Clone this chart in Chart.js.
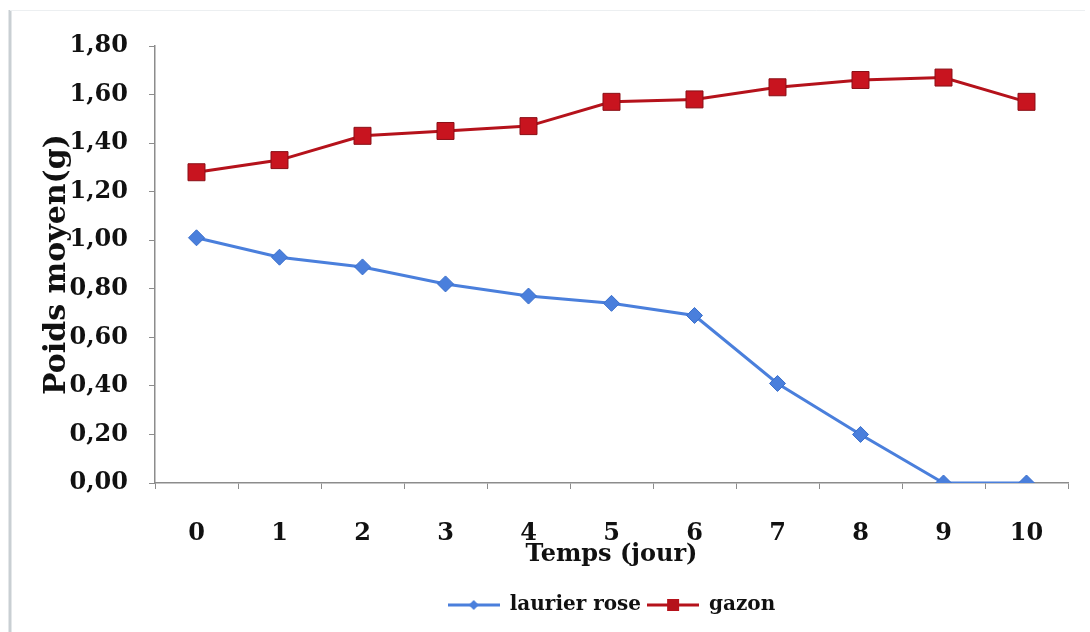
<!DOCTYPE html>
<html>
<head>
<meta charset="utf-8">
<script src="https://cdn.jsdelivr.net/npm/chart.js@4/dist/chart.umd.min.js"></script>
<style>
  html, body { margin: 0; padding: 0; background: #fff; }
  #wrap { width: 1090px; height: 632px; position: relative; }
</style>
</head>
<body>
<div id="wrap"><canvas id="myChart" width="1090" height="632"></canvas></div>
<script>
var jours = ["0", "1", "2", "3", "4", "5", "6", "7", "8", "9", "10"];
var laurierRose = [1.01, 0.93, 0.89, 0.82, 0.77, 0.74, 0.69, 0.41, 0.20, 0.00, 0.00];
var gazon = [1.28, 1.33, 1.43, 1.45, 1.47, 1.57, 1.58, 1.63, 1.66, 1.67, 1.57];
var yTicks = [0, 0.2, 0.4, 0.6, 0.8, 1.0, 1.2, 1.4, 1.6, 1.8];

var blue = "#4a7fdc";
var red = "#b5121b";
var serif = "'DejaVu Serif', 'Liberation Serif', serif";

// little line+marker pictures for the legend
function legendIcon(color, shape){
  var c = document.createElement("canvas");
  c.width = 52; c.height = 16;
  var g = c.getContext("2d");
  g.strokeStyle = color; g.lineWidth = 3;
  g.beginPath(); g.moveTo(0, 8); g.lineTo(52, 8); g.stroke();
  g.fillStyle = color;
  g.beginPath();
  if (shape === "diamond") {
    g.moveTo(26, 3); g.lineTo(31, 8); g.lineTo(26, 13); g.lineTo(21, 8);
  } else {
    g.rect(20, 2, 12, 12);
  }
  g.closePath(); g.fill();
  return c;
}
var icons = [legendIcon(blue, "diamond"), legendIcon(red, "square")];

var frame = {
  id: "frame",
  beforeDraw: function(chart){
    var c = chart.ctx;
    c.save();
    c.fillStyle = "#fff";
    c.fillRect(0, 0, chart.width, chart.height);
    c.strokeStyle = "#c9cfd3"; c.lineWidth = 3;
    c.beginPath(); c.moveTo(10, 10); c.lineTo(10, 632); c.stroke();
    c.strokeStyle = "#eceff1"; c.lineWidth = 1;
    c.beginPath(); c.moveTo(10, 10.5); c.lineTo(1085, 10.5); c.stroke();
    c.restore();
  },
  // centre the legend under the plot area instead of the whole canvas
  afterLayout: function(chart){
    var L = chart.legend, a = chart.chartArea;
    var shift = (a.left + a.right) / 2 - (L.left + L.right) / 2;
    L.left += shift; L.right += shift;
  }
};

window.onload = function(){
  var ctx = document.getElementById("myChart");
  var myChart = new Chart(ctx, {
    type: 'line',
    data: {
      labels: jours,
      datasets: [{
        label: "laurier rose",
        data: laurierRose,
        borderColor: blue,
        backgroundColor: blue,
        borderWidth: 3,
        pointStyle: 'rectRot',
        pointRadius: 8,
        pointBorderWidth: 1,
        pointBorderColor: "#3a6fcc",
        tension: 0
      }, {
        label: "gazon",
        data: gazon,
        borderColor: red,
        backgroundColor: "#c8141f",
        borderWidth: 3,
        pointStyle: 'rect',
        pointRadius: 12,
        pointBorderWidth: 1,
        pointBorderColor: "#8a0f16",
        tension: 0
      }]
    },
    options: {
      responsive: false,
      animation: false,
      layout: { padding: { left: 25, right: 22, top: 46, bottom: 7 } },
      plugins: {
        tooltip: { enabled: false },
        legend: {
          position: 'bottom',
          labels: {
            usePointStyle: true,
            pointStyleWidth: 52,
            boxHeight: 16,
            padding: 6,
            color: "#111",
            font: { family: serif, size: 20, weight: 'bold' },
            generateLabels: function(chart){
              var items = Chart.defaults.plugins.legend.labels.generateLabels(chart);
              items.forEach(function(it, i){ it.pointStyle = icons[i]; });
              return items;
            }
          }
        }
      },
      scales: {
        x: {
          offset: true,
          afterFit: function(s){ s.height = 106; },
          border: { color: "#8c8c8c", width: 1.5 },
          grid: { drawOnChartArea: false, drawTicks: true, tickLength: 6, color: "#8c8c8c", offset: true },
          ticks: { color: "#111", padding: 30, font: { family: serif, size: 24, weight: 'bold' } },
          title: { display: true, text: "Temps (jour)", color: "#111", padding: { top: 0, bottom: 20 },
                   font: { family: serif, size: 24, weight: 'bold' } }
        },
        y: {
          min: 0,
          max: 1.8,
          afterFit: function(s){ s.width = 130; },
          afterBuildTicks: function(s){ s.ticks = yTicks.map(function(v){ return { value: v }; }); },
          border: { color: "#8c8c8c", width: 1.5 },
          grid: { drawOnChartArea: false, drawTicks: true, tickLength: 6, color: "#8c8c8c" },
          ticks: {
            color: "#111", padding: 21,
            font: { family: serif, size: 24, weight: 'bold' },
            callback: function(v){ return v.toFixed(2).replace(".", ","); }
          },
          title: { display: true, text: "Poids moyen(g)", color: "#111", padding: { top: 14, bottom: 0 },
                   font: { family: serif, size: 30, weight: 'bold' } }
        }
      }
    },
    plugins: [frame]
  });
};
</script>
</body>
</html>
